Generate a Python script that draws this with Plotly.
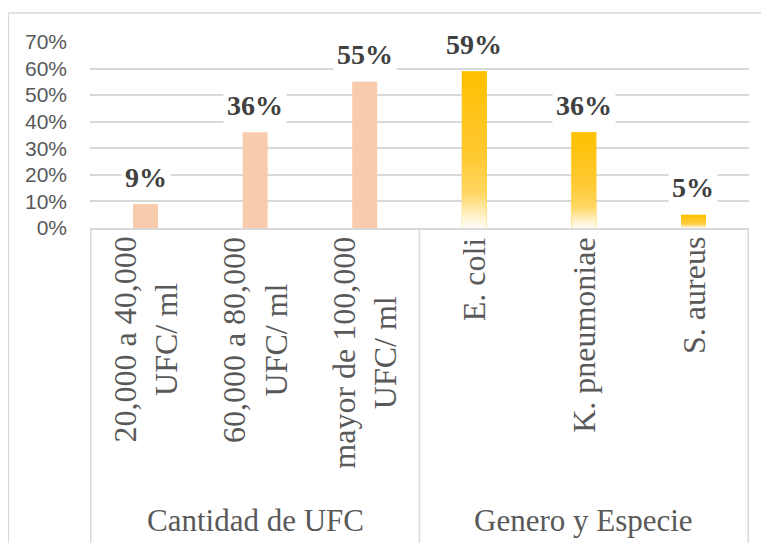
import base64
import plotly.graph_objects as go

# ---- data ----
groups = ["Cantidad de UFC", "Cantidad de UFC", "Cantidad de UFC",
          "Genero y Especie", "Genero y Especie", "Genero y Especie"]
categories = ["20,000 a 40,000<br>UFC/ ml", "60,000 a 80,000<br>UFC/ ml",
              "mayor de 100,000<br>UFC/ ml", "E. coli", "K. pneumoniae", "S. aureus"]
values = [0.09, 0.36, 0.55, 0.59, 0.36, 0.05]
value_labels = ["9%", "36%", "55%", "59%", "36%", "5%"]
group_names = ["Cantidad de UFC", "Genero y Especie"]
y_ticks = [0, 0.1, 0.2, 0.3, 0.4, 0.5, 0.6, 0.7]
y_tick_text = ["0%", "10%", "20%", "30%", "40%", "50%", "60%", "70%"]

PEACH = "#F8CBAD"
GOLD = "#FFC000"
GRID = "#D9D9D9"
TXT = "#595959"
SERIF = "Liberation Serif, Times New Roman, serif"

keys = [f"c{i}" for i in range(len(categories))]
colors = [PEACH if g == group_names[0] else GOLD for g in groups]
BAR_W = 0.228

fig = go.Figure()
fig.add_trace(go.Bar(x=keys, y=values, marker=dict(color=colors, line=dict(width=0)),
                     width=BAR_W, hoverinfo="skip"))

# gradient overlay for the gold bars
svg = ('<svg xmlns="http://www.w3.org/2000/svg" width="10" height="100" preserveAspectRatio="none">'
       '<defs><linearGradient id="g" x1="0" y1="0" x2="0" y2="1">'
       '<stop offset="0" stop-color="#FFC000"/>'
       '<stop offset="0.55" stop-color="#FFC933"/>'
       '<stop offset="0.78" stop-color="#FFD764"/>'
       '<stop offset="0.9" stop-color="#FFEDB8"/>'
       '<stop offset="1" stop-color="#FFFDF7"/>'
       '</linearGradient></defs><rect x="0" y="0" width="10" height="100" fill="url(#g)"/></svg>')
src = "data:image/svg+xml;base64," + base64.b64encode(svg.encode()).decode()
images = []
for i, (g, v) in enumerate(zip(groups, values)):
    if g == group_names[1]:
        images.append(dict(source=src, xref="x", yref="y", x=i, y=v, sizex=BAR_W, sizey=v,
                           xanchor="center", yanchor="top", sizing="stretch", layer="above"))

annotations = []
# value labels
for k, lab, v in zip(keys, value_labels, values):
    annotations.append(dict(x=k, y=v, xref="x", yref="y", text=f"<b>{lab}</b>", showarrow=False,
                            yanchor="middle", yshift=27, bgcolor="white", borderpad=3,
                            font=dict(family=SERIF, size=28, color="#404040")))
# rotated category labels
for k, c in zip(keys, categories):
    annotations.append(dict(x=k, y=0, xref="x", yref="paper", text=c, showarrow=False,
                            textangle=-90, yanchor="top", xanchor="center", yshift=-7, align="center",
                            font=dict(family=SERIF, size=32, color=TXT)))
# group labels
for gname in group_names:
    idx = [i for i, g in enumerate(groups) if g == gname]
    mid = (idx[0] + idx[-1]) / 2
    annotations.append(dict(x=mid, y=-1.57, xref="x", yref="paper", text=gname, showarrow=False,
                            yanchor="middle", xanchor="center",
                            font=dict(family=SERIF, size=31, color=TXT)))

shapes = []
# category box dividers
bounds = [-0.5] + [i + 0.5 for i in range(len(groups) - 1) if groups[i] != groups[i + 1]] + [len(groups) - 0.5]
for b in bounds:
    shapes.append(dict(type="line", xref="x", yref="paper", x0=b, x1=b, y0=0, y1=-1.75,
                       line=dict(color=GRID, width=1.5)))
# outer chart border (top and left)
shapes.append(dict(type="line", xref="paper", yref="paper", x0=-0.124, x1=1.05, y0=1.156, y1=1.156,
                   line=dict(color=GRID, width=1.5)))
shapes.append(dict(type="line", xref="paper", yref="paper", x0=-0.124, x1=-0.124, y0=1.156, y1=-1.75,
                   line=dict(color=GRID, width=1.5)))

fig.update_layout(
    width=761, height=535,
    margin=dict(l=82, r=20, t=34, b=315),
    paper_bgcolor="white", plot_bgcolor="white",
    showlegend=False,
    bargap=0.77,
    images=images,
    annotations=annotations,
    shapes=shapes,
    xaxis=dict(type="category", showticklabels=False, showgrid=False, zeroline=False,
               showline=True, linecolor=GRID, linewidth=1.5, ticks=""),
    yaxis=dict(range=[0, 0.7], tickvals=y_ticks, ticktext=y_tick_text, showgrid=True,
               gridcolor=GRID, gridwidth=1.5, zeroline=False, showline=False, ticks="",
               ticklabelstandoff=22,
               tickfont=dict(family="Liberation Sans, Arial, sans-serif", size=21, color=TXT)),
)

fig.write_html("out.html")
